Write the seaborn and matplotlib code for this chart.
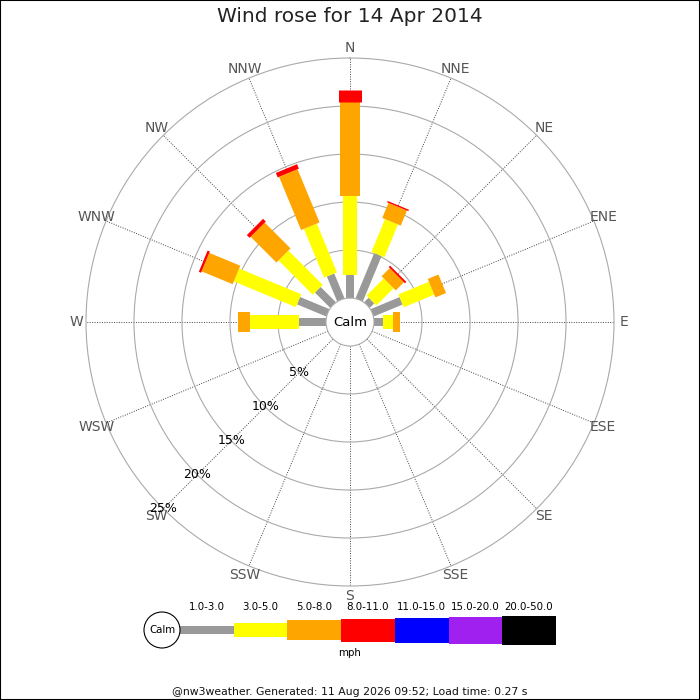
import numpy as np
import pandas as pd
import matplotlib
matplotlib.use("Agg")
import matplotlib.pyplot as plt
from matplotlib.patches import Circle, Rectangle
import seaborn as sns

# compass points, clockwise from north
directions = ["N", "NNE", "NE", "ENE", "E", "ESE", "SE", "SSE",
              "S", "SSW", "SW", "WSW", "W", "WNW", "NW", "NNW"]

# speed bands (mph) and their colours
bands = ["1.0-3.0", "3.0-5.0", "5.0-8.0", "8.0-11.0",
         "11.0-15.0", "15.0-20.0", "20.0-50.0"]
band_colors = ["#999999", "#ffff00", "#ffa500", "#ff0000",
               "#0000ff", "#a020f0", "#000000"]

# % of the day in each band, per direction
pct_1_3 = [2.4, 5.1, 0.67, 3.26, 0.97, 0, 0, 0, 0, 0, 0, 0, 2.8, 3.3, 2.25, 2.8]
pct_3_5 = [8.2, 3.7, 2.53, 3.44, 0.98, 0, 0, 0, 0, 0, 0, 0, 5.1, 7.0, 5.05, 5.5]
pct_5_8 = [9.85, 1.7, 1.2, 1.2, 0.75, 0, 0, 0, 0, 0, 0, 0, 1.3, 3.5, 3.8, 6.0]
pct_8_11 = [1.25, 0.15, 0.2, 0, 0, 0, 0, 0, 0, 0, 0, 0, 0, 0.25, 0.4, 0.5]

ring_ticks = [5, 10, 15, 20, 25]

title = "Wind rose for 14 Apr 2014"
footer = "@nw3weather. Generated: 11 Aug 2026 09:52; Load time: 0.27 s"

# bar thickness per band in pixels (figure is 100 dpi)
band_px = [8, 14, 20, 23, 25, 27, 29]
band_lw = [p * 0.72 for p in band_px]

# long table of radial segments: one start and end row per piece
rows = []
for i, d in enumerate(directions):
    theta = np.deg2rad(22.5 * i)
    base = 0.0
    for band, vals in zip(bands, [pct_1_3, pct_3_5, pct_5_8, pct_8_11]):
        v = vals[i]
        if v > 0:
            seg = f"{d} {band}"
            rows.append({"seg": seg, "band": band, "theta": theta, "r": base})
            rows.append({"seg": seg, "band": band, "theta": theta, "r": base + v})
            base += v
df = pd.DataFrame(rows)

sns.set_theme(style="white")
plt.rcParams["font.family"] = ["DejaVu Sans"]

fig = plt.figure(figsize=(7, 7), dpi=100)

# pixel overlay for title, footer and legend
over = fig.add_axes([0, 0, 1, 1])
over.set_xlim(0, 700)
over.set_ylim(700, 0)
over.axis("off")

over.text(350, 17, title, ha="center", va="center", fontsize=14.5, color="#222222")
over.text(350, 692, footer, ha="center", va="center", fontsize=7.8, color="#111111")
over.text(350, 322, "Calm", ha="center", va="center", fontsize=9.5, color="black")

# legend strip
seg_w = 53.7
lefts = [180 + k * seg_w for k in range(len(bands))]
heights = np.array(band_px, dtype=float)
over.bar(lefts, heights, width=seg_w, bottom=630 - heights / 2, align="edge",
         color=band_colors, linewidth=0)
for x0, lab in zip(lefts, bands):
    over.text(x0 + seg_w / 2, 607, lab, ha="center", va="center", fontsize=7.4, color="black")
over.text(350, 653, "mph", ha="center", va="center", fontsize=7.4, color="black")
over.add_patch(Circle((162, 630), 18, fill=False, ec="black", lw=0.8))
over.text(162, 630, "Calm", ha="center", va="center", fontsize=7.4, color="black")

# the rose itself
ax = fig.add_axes([86 / 700, 114 / 700, 528 / 700, 528 / 700], projection="polar")
ax.set_facecolor("none")
ax.set_theta_zero_location("N")
ax.set_theta_direction(-1)

sns.lineplot(data=df, x="theta", y="r", hue="band", size="band",
             hue_order=bands, size_order=bands,
             palette=dict(zip(bands, band_colors)),
             sizes=dict(zip(bands, band_lw)),
             units="seg", estimator=None, sort=False, legend=False,
             ax=ax, solid_capstyle="butt")

ax.set_ylim(0, 25)
ax.set_rorigin(-2.5)
ax.set_xticks(np.deg2rad(np.arange(0, 360, 22.5)))
ax.set_xticklabels([])
ax.set_yticks(ring_ticks[:-1])
ax.set_yticklabels([])
ax.set_xlabel("")
ax.set_ylabel("")
ax.tick_params(length=0)
ax.xaxis.grid(True, color="#444444", lw=0.7, ls=(0, (1, 1.5)))
ax.yaxis.grid(True, color="#aaaaaa", lw=0.8, ls="-")
ax.spines["polar"].set_color("#aaaaaa")
ax.spines["polar"].set_linewidth(0.8)
ax.spines["inner"].set_color("#aaaaaa")
ax.spines["inner"].set_linewidth(0.8)

for i, d in enumerate(directions):
    ax.text(np.deg2rad(22.5 * i), 26.05, d, ha="center", va="center",
            fontsize=10, color="#555555")
for t in ring_ticks:
    ax.text(np.deg2rad(225), t, f"{t}%", ha="center", va="center",
            fontsize=9, color="black")

fig.patches.append(Rectangle((0, 0), 1, 1, transform=fig.transFigure,
                             fill=False, ec="black", lw=1.5))

fig.savefig("out.png", dpi=100)
